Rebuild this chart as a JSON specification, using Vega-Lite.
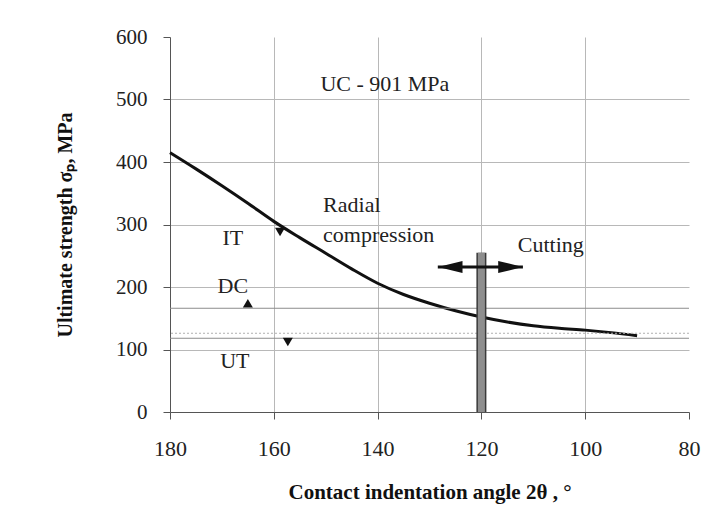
{
  "$schema": "https://vega.github.io/schema/vega-lite/v6.json",
  "width": 519,
  "height": 375,
  "autosize": {"type": "none"},
  "padding": {"left": 170, "top": 37, "right": 26, "bottom": 110},
  "background": "white",
  "config": {
    "view": {"stroke": null},
    "font": "Liberation Serif",
    "axis": {
      "labelFont": "Liberation Serif",
      "labelColor": "#222222",
      "titleFont": "Liberation Serif",
      "titleColor": "#111111",
      "titleFontWeight": "bold",
      "domainColor": "#555555",
      "tickColor": "#555555",
      "gridColor": "#b8b8b8",
      "gridWidth": 1,
      "tickSize": 7,
      "labelFlush": false,
      "labelOverlap": false
    },
    "axisX": {
      "labelFontSize": 22,
      "labelPadding": 19,
      "titleFontSize": 21,
      "titlePadding": 22
    },
    "axisY": {
      "labelFontSize": 21,
      "labelPadding": 16,
      "titleFontSize": 20,
      "titlePadding": 40
    }
  },
  "resolve": {"scale": {"shape": "independent"}},
  "datasets": {
    "curve": [
      {"angle": 180, "strength": 415},
      {"angle": 175, "strength": 389},
      {"angle": 170, "strength": 362},
      {"angle": 165, "strength": 334},
      {"angle": 160, "strength": 305},
      {"angle": 155, "strength": 279},
      {"angle": 150, "strength": 254},
      {"angle": 145, "strength": 229},
      {"angle": 140, "strength": 206},
      {"angle": 135, "strength": 188},
      {"angle": 130, "strength": 174},
      {"angle": 125, "strength": 162},
      {"angle": 120, "strength": 152},
      {"angle": 115, "strength": 144},
      {"angle": 110, "strength": 138},
      {"angle": 105, "strength": 134},
      {"angle": 100, "strength": 131},
      {"angle": 95, "strength": 127},
      {"angle": 90, "strength": 122}
    ],
    "levels": [
      {"strength": 166, "style": "solid"},
      {"strength": 118, "style": "solid"},
      {"strength": 126, "style": "dotted"}
    ],
    "bar": [{"angle": 120, "strength": 0, "strength2": 255}],
    "arrow": [{"angle": 128.4, "angle2": 112, "strength": 232}],
    "heads": [
      {"angle": 126, "strength": 232, "dir": "left"},
      {"angle": 114.4, "strength": 232, "dir": "right"}
    ],
    "markers": [
      {"angle": 158.8, "strength": 288, "kind": "down"},
      {"angle": 165, "strength": 174, "kind": "up"},
      {"angle": 157.3, "strength": 112, "kind": "down"}
    ],
    "labelsCenter": [
      {"angle": 138.6, "strength": 525, "text": "UC - 901 MPa"},
      {"angle": 167.9, "strength": 278, "text": "IT"},
      {"angle": 167.9, "strength": 201, "text": "DC"},
      {"angle": 167.5, "strength": 81, "text": "UT"}
    ],
    "labelsLeft": [
      {"angle": 150.5, "strength": 332, "text": "Radial"},
      {"angle": 150.5, "strength": 283, "text": "compression"},
      {"angle": 113, "strength": 268, "text": "Cutting"}
    ]
  },
  "layer": [
    {
      "data": {"name": "curve"},
      "mark": {"type": "line", "color": "#111111", "strokeWidth": 3, "interpolate": "monotone"},
      "encoding": {
        "x": {
          "field": "angle",
          "type": "quantitative",
          "title": "Contact indentation angle  2θ , °",
          "scale": {"domain": [80, 180], "reverse": true, "nice": false, "zero": false},
          "axis": {
            "values": [180, 160, 140, 120, 100, 80],
            "gridOpacity": {"condition": {"test": "datum.value === 80 || datum.value === 180", "value": 0}, "value": 1}
          }
        },
        "y": {
          "field": "strength",
          "type": "quantitative",
          "title": "Ultimate strength σₚ, MPa",
          "scale": {"domain": [0, 600], "nice": false},
          "axis": {
            "values": [0, 100, 200, 300, 400, 500, 600],
            "gridOpacity": {"condition": {"test": "datum.value === 0 || datum.value === 600", "value": 0}, "value": 1}
          }
        }
      }
    },
    {
      "data": {"name": "levels"},
      "transform": [{"filter": "datum.style === 'solid'"}],
      "mark": {"type": "rule", "color": "#8c8c8c", "strokeWidth": 1},
      "encoding": {
        "y": {"field": "strength", "type": "quantitative", "title": "Ultimate strength σₚ, MPa"}
      }
    },
    {
      "data": {"name": "levels"},
      "transform": [{"filter": "datum.style === 'dotted'"}],
      "mark": {"type": "rule", "color": "#b0b0b0", "strokeWidth": 1, "strokeDash": [2, 2]},
      "encoding": {
        "y": {"field": "strength", "type": "quantitative", "title": "Ultimate strength σₚ, MPa"}
      }
    },
    {
      "data": {"name": "bar"},
      "mark": {"type": "rule", "color": "#3a3a3a", "strokeWidth": 10},
      "encoding": {
        "x": {"field": "angle", "type": "quantitative", "title": "Contact indentation angle  2θ , °"},
        "y": {"field": "strength", "type": "quantitative", "title": "Ultimate strength σₚ, MPa"},
        "y2": {"field": "strength2"}
      }
    },
    {
      "data": {"name": "bar"},
      "mark": {"type": "rule", "color": "#8e8e8e", "strokeWidth": 7},
      "encoding": {
        "x": {"field": "angle", "type": "quantitative", "title": "Contact indentation angle  2θ , °"},
        "y": {"field": "strength", "type": "quantitative", "title": "Ultimate strength σₚ, MPa"},
        "y2": {"field": "strength2"}
      }
    },
    {
      "data": {"name": "arrow"},
      "mark": {"type": "rule", "color": "#111111", "strokeWidth": 3},
      "encoding": {
        "x": {"field": "angle", "type": "quantitative", "title": "Contact indentation angle  2θ , °"},
        "x2": {"field": "angle2"},
        "y": {"field": "strength", "type": "quantitative", "title": "Ultimate strength σₚ, MPa"}
      }
    },
    {
      "data": {"name": "heads"},
      "mark": {"type": "point", "filled": true, "color": "#111111", "opacity": 1, "size": 600},
      "encoding": {
        "x": {"field": "angle", "type": "quantitative", "title": "Contact indentation angle  2θ , °"},
        "y": {"field": "strength", "type": "quantitative", "title": "Ultimate strength σₚ, MPa"},
        "shape": {
          "field": "dir",
          "type": "nominal",
          "scale": {"domain": ["left", "right"], "range": ["M -1 0 L 1 -0.5 L 1 0.5 Z", "M 1 0 L -1 -0.5 L -1 0.5 Z"]},
          "legend": null
        }
      }
    },
    {
      "data": {"name": "markers"},
      "mark": {"type": "point", "filled": true, "color": "#111111", "opacity": 1, "size": 100},
      "encoding": {
        "x": {"field": "angle", "type": "quantitative", "title": "Contact indentation angle  2θ , °"},
        "y": {"field": "strength", "type": "quantitative", "title": "Ultimate strength σₚ, MPa"},
        "shape": {
          "field": "kind",
          "type": "nominal",
          "scale": {"domain": ["up", "down"], "range": ["triangle-up", "triangle-down"]},
          "legend": null
        }
      }
    },
    {
      "data": {"name": "labelsCenter"},
      "mark": {"type": "text", "font": "Liberation Serif", "fontSize": 22, "color": "#222222", "align": "center", "baseline": "middle"},
      "encoding": {
        "x": {"field": "angle", "type": "quantitative", "title": "Contact indentation angle  2θ , °"},
        "y": {"field": "strength", "type": "quantitative", "title": "Ultimate strength σₚ, MPa"},
        "text": {"field": "text"}
      }
    },
    {
      "data": {"name": "labelsLeft"},
      "mark": {"type": "text", "font": "Liberation Serif", "fontSize": 22, "color": "#222222", "align": "left", "baseline": "middle"},
      "encoding": {
        "x": {"field": "angle", "type": "quantitative", "title": "Contact indentation angle  2θ , °"},
        "y": {"field": "strength", "type": "quantitative", "title": "Ultimate strength σₚ, MPa"},
        "text": {"field": "text"}
      }
    }
  ]
}
